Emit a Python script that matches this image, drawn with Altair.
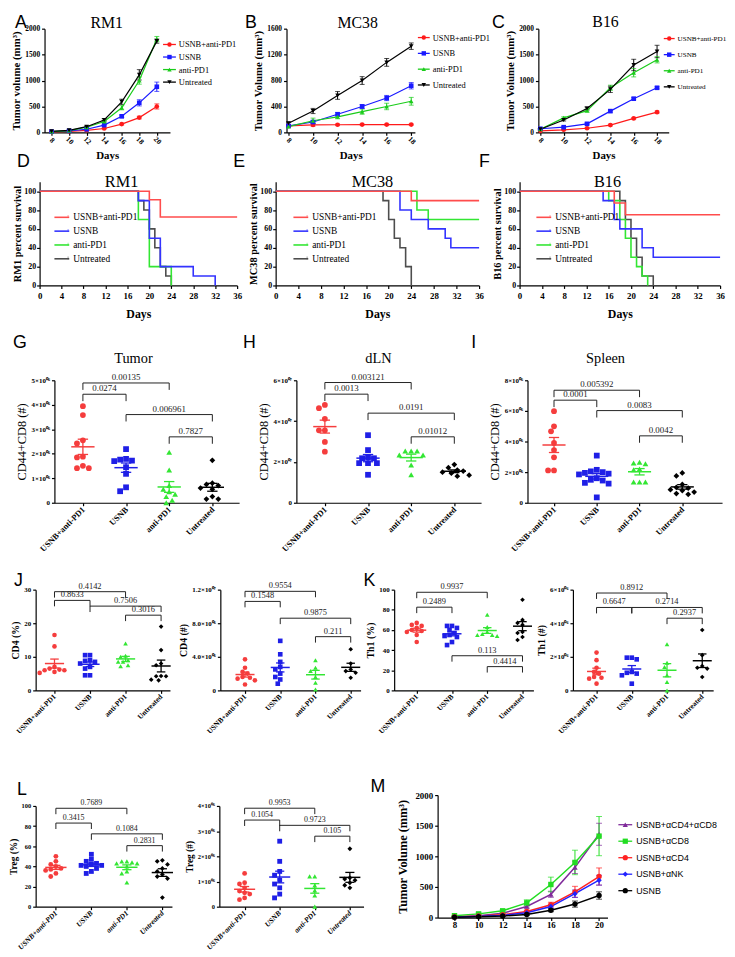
import json
import altair as alt
import pandas as pd
import numpy as np

SERIF = "Liberation Serif"
SANS = "Liberation Sans"

# ---------------- categories / texts ----------------
GROUPS = ["USNB+anti-PD1", "USNB", "anti-PD1", "Untreated"]
M_GROUPS = ["USNB+\u03b1CD4+\u03b1CD8", "USNB+\u03b1CD8", "USNB+\u03b1CD4", "USNB+\u03b1NK", "USNB"]
LETTERS = ["A", "B", "C", "D", "E", "F", "G", "H", "I", "J", "K", "L", "M"]
TUMOR_NAMES = ["RM1", "MC38", "B16"]
ORGAN_NAMES = ["Tumor", "dLN", "Spleen"]

COL_LINE = ["#FF1A1A", "#1A1AFF", "#1ACC1A", "#000000"]
COL_SURV = ["#FF4D4D", "#3333FF", "#33E633", "#4D4D4D"]
COL_DOT = ["#F53D3D", "#1F1FE6", "#33E633", "#000000"]
COL_M = ["#7F2A9A", "#22DD22", "#FF2222", "#2222FF", "#000000"]

# ---------------- A / B / C tumor growth ----------------
DAYS_A = [8, 10, 12, 14, 16, 18, 20]
A_RED = [10, 20, 40, 75, 160, 285, 500]
A_BLUE = [15, 30, 60, 140, 310, 570, 880]
A_GREEN = [15, 35, 100, 210, 475, 1000, 1800]
A_BLACK = [20, 40, 110, 240, 590, 1110, 1760]
A_RED_E = [3, 4, 6, 10, 15, 25, 50]
A_BLUE_E = [3, 5, 10, 15, 25, 60, 90]
A_GREEN_E = [3, 5, 10, 20, 40, 70, 50]
A_BLACK_E = [3, 5, 15, 25, 50, 100, 40]

DAYS_B = [8, 10, 12, 14, 16, 18]
B_RED = [100, 115, 118, 120, 120, 120]
B_BLUE = [100, 160, 280, 400, 530, 720]
B_GREEN = [90, 180, 240, 320, 400, 480]
B_BLACK = [140, 330, 570, 800, 1080, 1330]
B_RED_E = [10, 20, 10, 10, 10, 10]
B_BLUE_E = [15, 20, 25, 30, 40, 50]
B_GREEN_E = [10, 40, 30, 40, 50, 60]
B_BLACK_E = [20, 40, 60, 60, 60, 50]

DAYS_C = [8, 10, 12, 14, 16, 18]
C_RED = [30, 50, 80, 140, 270, 390]
C_BLUE = [70, 100, 165, 410, 650, 860]
C_GREEN = [60, 280, 420, 860, 1150, 1400]
C_BLACK = [60, 240, 460, 830, 1300, 1560]
C_RED_E = [5, 8, 10, 15, 15, 20]
C_BLUE_E = [5, 10, 15, 20, 20, 20]
C_GREEN_E = [10, 20, 30, 50, 80, 60]
C_BLACK_E = [10, 20, 30, 60, 110, 120]

TICKS_2000 = [0, 500, 1000, 1500, 2000]
TICKS_1600 = [0, 400, 800, 1200, 1600]

# ---------------- D / E / F survival ----------------
D_RED_T, D_RED_S = [0, 20, 22, 36], [100, 90.9, 72.7, 72.7]
D_BLUE_T, D_BLUE_S = [0, 18, 20, 22, 28, 32], [100, 90, 50, 20, 10, 0]
D_GREEN_T, D_GREEN_S = [0, 18, 20, 24], [100, 70, 20, 0]
D_BLACK_T, D_BLACK_S = [0, 18, 19, 20, 21, 22, 23, 24], [100, 90, 80, 60, 40, 20, 10, 0]

E_RED_T, E_RED_S = [0, 24, 36], [100, 90, 90]
E_BLUE_T, E_BLUE_S = [0, 22, 24, 27, 30, 31, 36], [100, 80, 70, 60, 50, 40, 40]
E_GREEN_T, E_GREEN_S = [0, 25, 27, 36], [100, 80, 70, 70]
E_BLACK_T, E_BLACK_S = [0, 19, 20, 21, 22, 23, 24], [100, 90, 70, 50, 40, 20, 0]

F_RED_T, F_RED_S = [0, 17, 19, 36], [100, 87.5, 75, 75]
F_BLUE_T, F_BLUE_S = [0, 15, 17, 18, 22, 24, 36], [100, 90, 70, 60, 40, 30, 30]
F_GREEN_T, F_GREEN_S = [0, 16, 18, 19, 20, 21, 22, 23], [100, 90, 70, 50, 30, 20, 10, 0]
F_BLACK_T, F_BLACK_S = [0, 18, 19, 20, 21, 22, 24], [100, 90, 70, 50, 30, 10, 0]

TICKS_DAYS36 = [0, 4, 8, 12, 16, 20, 24, 28, 32, 36]
TICKS_PCT100 = [0, 20, 40, 60, 80, 100]

# ---------------- G / H / I  CD44+CD8 ----------------
G_RED = [3.94, 3.58, 2.55, 2.42, 1.88, 1.85, 1.51, 1.41, 1.41]
G_BLUE = [2.19, 1.79, 1.76, 1.72, 1.70, 1.45, 1.18, 0.63, 0.47]
G_GREEN = [2.06, 1.34, 0.70, 0.55, 0.45, 0.35, 0.25, 0.10, 0.0]
G_BLACK = [1.73, 0.80, 0.75, 0.70, 0.60, 0.55, 0.25, 0.15, 0.15]
G_BR = [(0, 2, 4.89, "0.00135"), (0, 1, 4.43, "0.0274"), (1, 3, 3.60, "0.006961"), (2, 3, 2.69, "0.7827")]
G_TICKS = [0, 1e6, 2e6, 3e6, 4e6, 5e6]

H_RED = [4.79, 4.63, 4.11, 3.55, 3.55, 2.98, 2.50]
H_BLUE = [3.31, 2.58, 2.23, 2.18, 2.18, 1.94, 1.94, 1.94, 1.37]
H_GREEN = [2.53, 2.53, 2.53, 2.34, 2.34, 1.85, 1.37]
H_BLACK = [1.87, 1.72, 1.60, 1.55, 1.50, 1.45, 1.35, 1.30]
H_BR = [(0, 2, 5.89, "0.003121"), (0, 1, 5.32, "0.0013"), (1, 3, 4.39, "0.0191"), (2, 3, 3.23, "0.01012")]
H_TICKS = [0, 2e7, 4e7, 6e7]

I_RED = [5.98, 4.99, 4.67, 3.91, 3.44, 2.97, 2.11, 2.11]
I_BLUE = [3.08, 2.15, 2.05, 2.00, 1.95, 1.90, 1.85, 1.60, 1.50, 1.45, 1.30, 1.25, 0.35]
I_GREEN = [2.65, 2.60, 2.55, 2.20, 2.15, 1.35, 1.35, 1.35]
I_BLACK = [1.95, 1.75, 1.20, 1.00, 0.95, 0.85, 0.80, 0.70, 0.60, 0.55]
I_BR = [(0, 2, 7.35, "0.005392"), (0, 1, 6.70, "0.0001"), (1, 3, 6.02, "0.0083"), (2, 3, 4.37, "0.0042")]
I_TICKS = [0, 2e6, 4e6, 6e6, 8e6]

# ---------------- J / K / L ----------------
J1_RED = [16.5, 13.1, 7.0, 6.5, 6.2, 6.0, 6.0, 5.5, 5.2]
J1_BLUE = [10.5, 10.5, 9.0, 8.8, 8.5, 8.0, 7.0, 6.5, 4.5, 4.5]
J1_GREEN = [14.0, 10.3, 10.0, 9.0, 8.5, 8.5, 7.5, 7.2]
J1_BLACK = [19.0, 12.0, 8.0, 7.5, 4.3, 4.2, 4.2, 3.2, 3.0]
J1_BR = [(0, 2, 29.4, "0.4142"), (0, 1, 26.8, "0.8633"), (1, 3, 25.1, "0.7506"), (2, 3, 22.4, "0.3016")]
J1_TICKS = [0, 10, 20, 30]

J2_RED = [3.7, 2.7, 2.2, 2.0, 1.6, 1.5, 1.4, 1.2, 0.7]
J2_BLUE = [5.9, 4.3, 3.4, 2.8, 2.5, 2.0, 1.6, 1.3, 0.8]
J2_GREEN = [3.6, 2.7, 2.3, 1.6, 0.9, 0.1]
J2_BLACK = [4.9, 3.2, 2.5, 2.3, 2.1, 1.5]
J2_BR = [(0, 2, 11.8, "0.9554"), (0, 1, 10.6, "0.1548"), (1, 3, 8.6, "0.9875"), (2, 3, 6.4, "0.211")]
J2_TICKS = [0, 4e6, 8e6, 1.2e7]

K1_RED = [67, 65, 64, 62, 60, 59, 58, 55, 48]
K1_BLUE = [64, 64, 62, 60, 57, 55, 54, 53, 48, 45]
K1_GREEN = [75, 63, 58, 56, 55, 55, 54]
K1_BLACK = [90, 70, 67, 65, 58, 57, 53, 50]
K1_BR = [(0, 2, 97.4, "0.9937"), (0, 1, 82.6, "0.2489"), (1, 3, 34.4, "0.113"), (2, 3, 23.6, "0.4414")]
K1_TICKS = [0, 20, 40, 60, 80, 100]

K2_RED = [2.25, 1.8, 1.35, 1.1, 1.0, 0.8, 0.75, 0.7, 0.4]
K2_BLUE = [1.95, 1.95, 1.85, 1.1, 1.05, 1.0, 0.9, 0.4]
K2_GREEN = [2.75, 1.65, 1.4, 0.9, 0.5, 0.0]
K2_BLACK = [3.6, 2.1, 1.45, 1.35, 1.3, 0.8]
K2_BR = [(0, 2, 5.8, "0.8912"), (0, 1, 4.94, "0.6647"), (1, 3, 4.94, "0.2714"), (2, 3, 4.3, "0.2937")]
K2_TICKS = [0, 2e6, 4e6, 6e6]

L1_RED = [50, 45, 42, 40, 38, 37, 36, 33, 30]
L1_BLUE = [52, 47, 45, 43, 42, 41, 41, 40, 38, 35, 33]
L1_GREEN = [45, 45, 44, 43, 43, 40, 35, 33, 24]
L1_BLACK = [46, 45, 42, 38, 35, 32, 30, 28, 9]
L1_BR = [(0, 2, 97.7, "0.7689"), (0, 1, 83.0, "0.3415"), (1, 3, 72.3, "0.1084"), (2, 3, 60.6, "0.2831")]
L1_TICKS = [0, 20, 40, 60, 80, 100]

L2_RED = [1.32, 0.95, 0.9, 0.75, 0.62, 0.55, 0.5, 0.35, 0.28]
L2_BLUE = [2.6, 1.8, 1.4, 1.25, 1.05, 0.9, 0.75, 0.5, 0.35]
L2_GREEN = [1.2, 1.2, 0.85, 0.65, 0.45, 0.0]
L2_BLACK = [2.3, 1.15, 1.1, 1.05, 0.95, 0.85, 0.75]
L2_BR = [(0, 2, 3.91, "0.9953"), (0, 1, 3.44, "0.1054"), (1, 3, 3.23, "0.9723"), (2, 3, 2.8, "0.105")]
L2_TICKS = [0, 1e6, 2e6, 3e6, 4e6]

# ---------------- M depletion ----------------
DAYS_M = [8, 10, 12, 14, 16, 18, 20]
M_PURPLE = [10, 30, 70, 180, 380, 820, 1360]
M_GREEN = [30, 60, 110, 240, 540, 900, 1330]
M_RED = [10, 25, 45, 100, 210, 420, 670]
M_BLUE = [5, 20, 35, 80, 180, 390, 610]
M_BLACK = [5, 15, 25, 50, 120, 220, 360]
M_PURPLE_E = [5, 10, 15, 25, 50, 100, 180]
M_GREEN_E = [5, 15, 20, 50, 120, 200, 320]
M_RED_E = [3, 8, 15, 20, 40, 90, 140]
M_BLUE_E = [3, 5, 10, 15, 30, 60, 80]
M_BLACK_E = [2, 5, 10, 15, 25, 50, 60]

P_VTICK = "M-0.12,-1H0.12V0.3H-0.12Z"

CAT_EXPR = json.dumps(GROUPS).replace('"', "'") + "[datum.value]"
INDEP = dict(color="independent", shape="independent")


def sci_expr(dec):
    f = "'.1f'" if dec else "'d'"
    return ("datum.value == 0 ? '0' : (datum.value >= 9.99e6 ? format(datum.value/1e7, %s) + '\u00d710\u2070\u2077'"
            " : format(datum.value/1e6, %s) + '\u00d710\u2070\u2076')" % (f, f))


def letter_layer(ch, dx, dy):
    return alt.Chart(pd.DataFrame({"t": [ch]})).mark_text(
        font=SANS, fontSize=18, align="left", baseline="alphabetic", color="black"
    ).encode(x=alt.value(dx), y=alt.value(dy + 13), text="t:N")


def name_layer(txt, cx, by, size):
    return alt.Chart(pd.DataFrame({"t": [txt]})).mark_text(
        font=SERIF, fontSize=size, align="center", baseline="alphabetic", color="black"
    ).encode(x=alt.value(cx), y=alt.value(by), text="t:N")


def legend_layers(groups, colors, shapes, w, h, xdom, ydom, leg, font, fsize, msize, lw, mpos=0.5):
    """Legend rows placed in the panel's own data space (through its scales)."""
    xa, xb, xt, y0, dy = leg
    fx = lambda px: xdom[0] + px / w * (xdom[1] - xdom[0])
    fy = lambda py: ydom[1] - py / h * (ydom[1] - ydom[0])
    n = len(groups)
    df = pd.DataFrame({"grp": groups,
                       "lx0": [fx(xa)] * n, "lx1": [fx(xb)] * n,
                       "lxm": [fx(xa + mpos * (xb - xa))] * n, "ltx": [fx(xt)] * n,
                       "ly": [fy(y0 + i * dy) for i in range(n)]})
    col = alt.Color("grp:N", scale=alt.Scale(domain=groups, range=colors), legend=None)
    base = alt.Chart(df)
    return [
        base.mark_rule(strokeWidth=lw).encode(x="lx0:Q", x2="lx1:Q", y="ly:Q", color=col),
        base.mark_point(filled=True, opacity=1, size=msize).encode(
            x="lxm:Q", y="ly:Q", color=col,
            shape=alt.Shape("grp:N", scale=alt.Scale(domain=groups, range=shapes), legend=None)),
        base.mark_text(align="left", baseline="middle", font=font, fontSize=fsize, color="black").encode(
            x="ltx:Q", y="ly:Q", text="grp:N"),
    ]


def growth_panel(days, series, errs, groups, colors, marks, w, h, xdom, yticks, ytitle, leg, st, extra):
    rows = []
    for g, vals, es in zip(groups, series, errs):
        for d, v, e in zip(days, vals, es):
            rows.append({"day": d, "grp": g, "val": v, "lo": v - e, "hi": v + e})
    df = pd.DataFrame(rows)
    base = alt.Chart(df)
    ydom = [0, yticks[-1]]
    xs = alt.Scale(domain=xdom, nice=False, zero=False)
    ys = alt.Scale(domain=ydom, nice=False, zero=False)
    xkw = dict(values=days, tickCount=len(days), labelFontSize=st["xl"], tickSize=3, labelPadding=st["xpad"],
               labelAngle=st["angle"], labelAlign="center", labelBaseline="middle",
               labelOverlap=False, labelFlush=False, format="d")
    if st["xtitle"]:
        xkw.update(title=st["xtitle"], titleFontSize=st["xt"], titleFontWeight="bold", titlePadding=st["xtp"])
    else:
        xkw.update(title=None)
    xax = alt.Axis(**xkw)
    yax = alt.Axis(values=yticks, tickCount=len(yticks), title=ytitle, titleFontSize=st["yt"],
                   titleFontWeight="bold", labelFontSize=st["yl"], tickSize=3, labelPadding=2,
                   titlePadding=st["ytp"], labelOverlap=False, labelFlush=False, format="d")
    cs = alt.Scale(domain=groups, range=colors)
    col = alt.Color("grp:N", scale=cs, legend=None)
    layers = [
        base.mark_rule(strokeWidth=1).encode(
            x=alt.X("day:Q", scale=xs, axis=xax), y=alt.Y("lo:Q", scale=ys, axis=yax), y2="hi:Q", color=col),
        base.mark_tick(orient="horizontal", size=st["cap"], thickness=1).encode(x="day:Q", y="hi:Q", color=col),
        base.mark_tick(orient="horizontal", size=st["cap"], thickness=1).encode(x="day:Q", y="lo:Q", color=col),
        base.mark_line(strokeWidth=st["lw"]).encode(x="day:Q", y="val:Q", color=col),
    ]
    for g, c, m in zip(groups, colors, marks):
        layers.append(base.transform_filter(alt.datum.grp == g).mark_point(
            filled=True, opacity=1, size=st["ms"], shape=m, color=c).encode(x="day:Q", y="val:Q"))
    layers += legend_layers(groups, colors, marks, w, h, xdom, ydom, leg, st["lfont"], st["lsize"],
                            st["lms"], 1.3)
    layers += extra
    return alt.layer(*layers).properties(width=w, height=h)


def survival_panel(times, survs, w, h, ytitle, leg, extra):
    rows = []
    for g, ts, ss in reversed(list(zip(GROUPS, times, survs))):
        for t, s in zip(ts, ss):
            rows.append({"t": t, "s": s, "grp": g})
    df = pd.DataFrame(rows)
    base = alt.Chart(df)
    xdom, ydom = [0, 36], [0, 110]
    xax = alt.Axis(values=TICKS_DAYS36, tickCount=len(TICKS_DAYS36), title="Days", titleFontSize=12,
                   titleFontWeight="bold", labelFontSize=9, tickSize=3, labelPadding=3, titlePadding=8,
                   labelOverlap=False, labelFlush=False, format="d")
    yax = alt.Axis(values=TICKS_PCT100, tickCount=len(TICKS_PCT100), title=ytitle, titleFontSize=10.5,
                   titleFontWeight="bold", labelFontSize=8, tickSize=3, labelPadding=1, titlePadding=1,
                   labelOverlap=False, labelFlush=False, format="d")
    cs = alt.Scale(domain=GROUPS, range=COL_SURV)
    line = base.mark_line(interpolate="step-after", strokeWidth=1.6).encode(
        x=alt.X("t:Q", scale=alt.Scale(domain=xdom, nice=False), axis=xax),
        y=alt.Y("s:Q", scale=alt.Scale(domain=ydom, nice=False), axis=yax),
        color=alt.Color("grp:N", scale=cs, legend=None))
    lg = legend_layers(GROUPS, COL_SURV, [P_VTICK] * 4, w, h, xdom, ydom, leg, SERIF, 9.5, 20, 1.6, mpos=0.92)
    return alt.layer(line, *lg, *extra).properties(width=w, height=h)


def swarm(vals, ppu, diam, ppc):
    n = len(vals)
    order = sorted(range(n), key=lambda i: -vals[i])
    cands = [0.0]
    for k in range(1, 14):
        cands += [-0.5 * k, 0.5 * k]
    placed = []
    offs = [0.0] * n
    for i in order:
        y = vals[i] * ppu
        x = 0.0
        for c in cands:
            x = c * diam
            if all((x - px) ** 2 + (y - py) ** 2 >= (0.95 * diam) ** 2 for px, py in placed):
                break
        placed.append((x, y))
        offs[i] = x / ppc
    return offs


SHAPES = ["circle", "square", "triangle-up", "diamond"]


def scatter_panel(vals, factor, w, h, xdom, yticks, ytitle, brackets, st, extra):
    ymax = yticks[-1]
    ppu = h / ymax
    ppc = w / (xdom[1] - xdom[0])
    rows, stats = [], []
    for gi, (g, vs) in enumerate(zip(GROUPS, vals)):
        vv = [v * factor for v in vs]
        offs = swarm(vv, ppu, st["diam"], ppc)
        for v, o in zip(vv, offs):
            rows.append({"xi": gi + o, "val": v, "grp": g})
        arr = np.array(vv)
        m = float(arr.mean())
        se = float(arr.std(ddof=1) / np.sqrt(len(arr)))
        stats.append({"gi": gi, "grp": g, "mean": m, "lo": m - se, "hi": m + se,
                      "xl": gi - st["mw"], "xr": gi + st["mw"], "cl": gi - st["cw"], "cr": gi + st["cw"]})
    leg = st["leg"] * ymax / h
    br = [{"x1": a, "x2": b, "xm": (a + b) / 2, "y": y * factor, "ylo": y * factor - leg, "lab": lab}
          for a, b, y, lab in brackets]
    pts, sdf, bdf = pd.DataFrame(rows), pd.DataFrame(stats), pd.DataFrame(br)
    xs = alt.Scale(domain=xdom, nice=False, zero=False)
    ys = alt.Scale(domain=[0, ymax], nice=False, zero=False)
    xax = alt.Axis(values=[0, 1, 2, 3], tickCount=4, labelExpr=CAT_EXPR, title=None, labelAngle=315,
                   labelAlign="right", labelBaseline="middle", labelFontSize=st["xl"], labelPadding=2, tickSize=3,
                   labelFontStyle=st["xstyle"], labelOverlap=False, labelFlush=False)
    ykw = dict(values=yticks, tickCount=len(yticks), title=ytitle, titleFontSize=st["yt"],
               titleFontWeight=st["ytw"], labelFontSize=st["yl"], tickSize=3, labelPadding=2,
               titlePadding=st["ytp"], labelOverlap=False, labelFlush=False)
    if st["expr"]:
        ykw["labelExpr"] = st["expr"]
    else:
        ykw["format"] = "d"
    yax = alt.Axis(**ykw)
    cs = alt.Scale(domain=GROUPS, range=COL_DOT)
    col = alt.Color("grp:N", scale=cs, legend=None)
    layers = [
        alt.Chart(pts).mark_point(filled=True, opacity=1, size=st["ms"]).encode(
            x=alt.X("xi:Q", scale=xs, axis=xax), y=alt.Y("val:Q", scale=ys, axis=yax), color=col,
            shape=alt.Shape("grp:N", scale=alt.Scale(domain=GROUPS, range=SHAPES), legend=None)),
        alt.Chart(sdf).mark_rule(strokeWidth=1.5).encode(x="xl:Q", x2="xr:Q", y="mean:Q", color=col),
        alt.Chart(sdf).mark_rule(strokeWidth=1.3).encode(x="gi:Q", y="lo:Q", y2="hi:Q", color=col),
        alt.Chart(sdf).mark_rule(strokeWidth=1.3).encode(x="cl:Q", x2="cr:Q", y="hi:Q", color=col),
        alt.Chart(sdf).mark_rule(strokeWidth=1.3).encode(x="cl:Q", x2="cr:Q", y="lo:Q", color=col),
        alt.Chart(bdf).mark_rule(strokeWidth=1, color="#222222").encode(x="x1:Q", x2="x2:Q", y="y:Q"),
        alt.Chart(bdf).mark_rule(strokeWidth=1, color="#222222").encode(x="x1:Q", y="y:Q", y2="ylo:Q"),
        alt.Chart(bdf).mark_rule(strokeWidth=1, color="#222222").encode(x="x2:Q", y="y:Q", y2="ylo:Q"),
        alt.Chart(bdf).mark_text(font=SERIF, fontSize=st["bt"], baseline="bottom", dy=-1, color="#222222").encode(
            x="xm:Q", y="y:Q", text="lab:N"),
    ]
    layers += extra
    return alt.layer(*layers).properties(width=w, height=h)


def spacer(w, h=1):
    d = pd.DataFrame({"v": [0.5]})
    return alt.Chart(d).mark_point(opacity=0, size=1).encode(
        x=alt.X("v:Q", axis=None, scale=alt.Scale(domain=[0, 1])),
        y=alt.Y("v:Q", axis=None, scale=alt.Scale(domain=[0, 1]))).properties(width=w, height=h)


def row(panels, lefts, widths, center=False):
    cells, cur = [], 8
    for p, l, wd in zip(panels, lefts, widths):
        cells.append(spacer(l - cur))
        cells.append(p)
        cur = l + wd
    return alt.hconcat(*cells, spacing=0, bounds="flush", center=center).resolve_scale(**INDEP)


# ---------------- build panels ----------------
ST_ABC = dict(xl=7.5, xpad=5, angle=45, xtitle="Days", xt=11, xtp=4, yt=11, yl=7.5, ytp=3, cap=5,
              lw=1.2, ms=22, lfont=SERIF, lsize=8.5, lms=20)
ST_C = dict(ST_ABC, lsize=7.2)
MK4 = ["circle", "square", "triangle-up", "triangle-down"]

pA = growth_panel(DAYS_A, [A_RED, A_BLUE, A_GREEN, A_BLACK], [A_RED_E, A_BLUE_E, A_GREEN_E, A_BLACK_E],
                  GROUPS, COL_LINE, MK4, 127, 105, [7.2, 21.5], TICKS_2000, "Tumor volume (mm\u00b3)",
                  (120, 133, 136, 16, 12.7), ST_ABC,
                  [name_layer(TUMOR_NAMES[0], 63, -1, 16), letter_layer(LETTERS[0], -30, -14)])
pB = growth_panel(DAYS_B, [B_RED, B_BLUE, B_GREEN, B_BLACK], [B_RED_E, B_BLUE_E, B_GREEN_E, B_BLACK_E],
                  GROUPS, COL_LINE, MK4, 130, 105, [7.84, 18.3], TICKS_1600, "Tumor Volume (mm\u00b3)",
                  (133, 145, 148, 9, 16), ST_ABC,
                  [name_layer(TUMOR_NAMES[1], 72, -1, 16), letter_layer(LETTERS[1], -42, -14)])
pC = growth_panel(DAYS_C, [C_RED, C_BLUE, C_GREEN, C_BLACK], [C_RED_E, C_BLUE_E, C_GREEN_E, C_BLACK_E],
                  GROUPS, COL_LINE, MK4, 132, 105, [7.83, 19.0], TICKS_2000, "Tumor Volume (mm\u00b3)",
                  (127, 138, 141, 10, 16.3), ST_C,
                  [name_layer(TUMOR_NAMES[2], 68, -2, 16), letter_layer(LETTERS[2], -47, -14)])

pD = survival_panel([D_RED_T, D_BLUE_T, D_GREEN_T, D_BLACK_T], [D_RED_S, D_BLUE_S, D_GREEN_S, D_BLACK_S],
                    200, 105, "RM1 percent survival", (15, 30, 34, 36, 14),
                    [name_layer(TUMOR_NAMES[0], 83, 5, 16.5), letter_layer(LETTERS[3], -23, -28)])
pE = survival_panel([E_RED_T, E_BLUE_T, E_GREEN_T, E_BLACK_T], [E_RED_S, E_BLUE_S, E_GREEN_S, E_BLACK_S],
                    206, 105, "MC38 percent survival", (18, 33, 37, 36, 14),
                    [name_layer(TUMOR_NAMES[1], 98, 5, 16.5), letter_layer(LETTERS[4], -43, -28)])
pF = survival_panel([F_RED_T, F_BLUE_T, F_GREEN_T, F_BLACK_T], [F_RED_S, F_BLUE_S, F_GREEN_S, F_BLACK_S],
                    203, 105, "B16 percent survival", (17, 32, 36, 36, 14),
                    [name_layer(TUMOR_NAMES[2], 89, 5, 16.5), letter_layer(LETTERS[5], -41, -28)])

ST_GHI = dict(diam=6.0, ms=34, xl=8.5, xstyle="normal", yt=12.5, ytw="normal", yl=7, ytp=3, leg=7, bt=9,
              mw=0.27, cw=0.12, expr=sci_expr(False))
pG = scatter_panel([G_RED, G_BLUE, G_GREEN, G_BLACK], 1e6, 187, 124, [-0.66, 3.62], G_TICKS, "CD44+CD8 (#)",
                   G_BR, ST_GHI, [name_layer(ORGAN_NAMES[0], 80, -17, 14.5), letter_layer(LETTERS[6], -42, -46)])
pH = scatter_panel([H_RED, H_BLUE, H_GREEN, H_BLACK], 1e7, 187, 124, [-0.66, 3.62], H_TICKS, "CD44+CD8 (#)",
                   H_BR, ST_GHI, [name_layer(ORGAN_NAMES[1], 83, -17, 14.5), letter_layer(LETTERS[7], -54, -46)])
pI = scatter_panel([I_RED, I_BLUE, I_GREEN, I_BLACK], 1e6, 197, 124, [-0.62, 3.93], I_TICKS, "CD44+CD8 (#)",
                   I_BR, ST_GHI, [name_layer(ORGAN_NAMES[2], 79, -17, 14.5), letter_layer(LETTERS[8], -57, -46)])

ST_JK = dict(diam=5.0, ms=22, xl=7.5, xstyle="normal", yt=10, ytw="bold", yl=7, ytp=3, leg=6, bt=8.5,
             mw=0.27, cw=0.12, expr="")
pJ1 = scatter_panel([J1_RED, J1_BLUE, J1_GREEN, J1_BLACK], 1, 136, 102, [-0.53, 3.25], J1_TICKS, "CD4 (%)",
                    J1_BR, ST_JK, [letter_layer(LETTERS[9], -22, -17)])
pJ2 = scatter_panel([J2_RED, J2_BLUE, J2_GREEN, J2_BLACK], 1e6, 142, 102, [-0.7, 3.28], J2_TICKS, "CD4 (#)",
                    J2_BR, dict(ST_JK, expr=sci_expr(True)), [])
pK1 = scatter_panel([K1_RED, K1_BLUE, K1_GREEN, K1_BLACK], 1, 141, 102, [-0.64, 3.31], K1_TICKS, "Th1 (%)",
                    K1_BR, ST_JK, [letter_layer(LETTERS[10], -31, -17)])
pK2 = scatter_panel([K2_RED, K2_BLUE, K2_GREEN, K2_BLACK], 1e6, 142, 102, [-0.67, 3.31], K2_TICKS, "Th1 (#)",
                    K2_BR, dict(ST_JK, expr=sci_expr(False)), [])

ST_L = dict(diam=5.2, ms=24, xl=7.5, xstyle="italic", yt=9.5, ytw="bold", yl=6.5, ytp=3, leg=6, bt=8,
            mw=0.3, cw=0.13, expr="")
pL1 = scatter_panel([L1_RED, L1_BLUE, L1_GREEN, L1_BLACK], 1, 138, 102, [-0.57, 3.27], L1_TICKS, "Treg (%)",
                    L1_BR, ST_L, [letter_layer(LETTERS[11], -19, -24)])
pL2 = scatter_panel([L2_RED, L2_BLUE, L2_GREEN, L2_BLACK], 1e6, 146, 102, [-0.72, 3.39], L2_TICKS, "Treg (#)",
                    L2_BR, dict(ST_L, expr=sci_expr(False)), [])

ST_M = dict(xl=9, xpad=4, angle=0, xtitle="", xt=11, xtp=4, yt=12.5, yl=9, ytp=5, cap=6,
            lw=1.5, ms=30, lfont=SANS, lsize=9, lms=28)
pM = growth_panel(DAYS_M, [M_PURPLE, M_GREEN, M_RED, M_BLUE, M_BLACK],
                  [M_PURPLE_E, M_GREEN_E, M_RED_E, M_BLUE_E, M_BLACK_E],
                  M_GROUPS, COL_M, ["triangle-up", "square", "circle", "diamond", "circle"],
                  172, 124, [6.6, 20.7], TICKS_2000, "Tumor Volume (mm\u00b3)",
                  (183, 197, 201, 30, 16.7), ST_M, [letter_layer(LETTERS[12], -68, -16)])

r1 = row([pA, pB, pC], [40, 285, 540], [127, 130, 132])
r2 = row([pD, pE, pF], [35, 274, 521], [200, 206, 203])
r3 = row([pG, pH, pI], [50, 295, 529], [187, 187, 197])
r4 = row([pJ1, pJ2, pK1, pK2], [31, 218, 394, 575], [136, 142, 141, 142])
r5 = row([pL1, pL2, pM], [31, 217, 438], [138, 146, 172], center=True)

chart = alt.vconcat(r1, spacer(1, 2), r2, spacer(1, 25), r3, spacer(1, 29), r4, spacer(1, 54), r5,
                    spacing=-10).resolve_scale(**INDEP).properties(
    padding=0).configure_view(stroke=None).configure_axis(
    grid=False, domainColor="black", tickColor="black", labelColor="black", titleColor="black",
    labelFont=SERIF, titleFont=SERIF, labelFontWeight="bold", domainWidth=1.2, tickWidth=1.2,
    labelOverlap=False, labelFlush=False)

chart.save("out.html", embed_options={"renderer": "svg", "actions": False})
